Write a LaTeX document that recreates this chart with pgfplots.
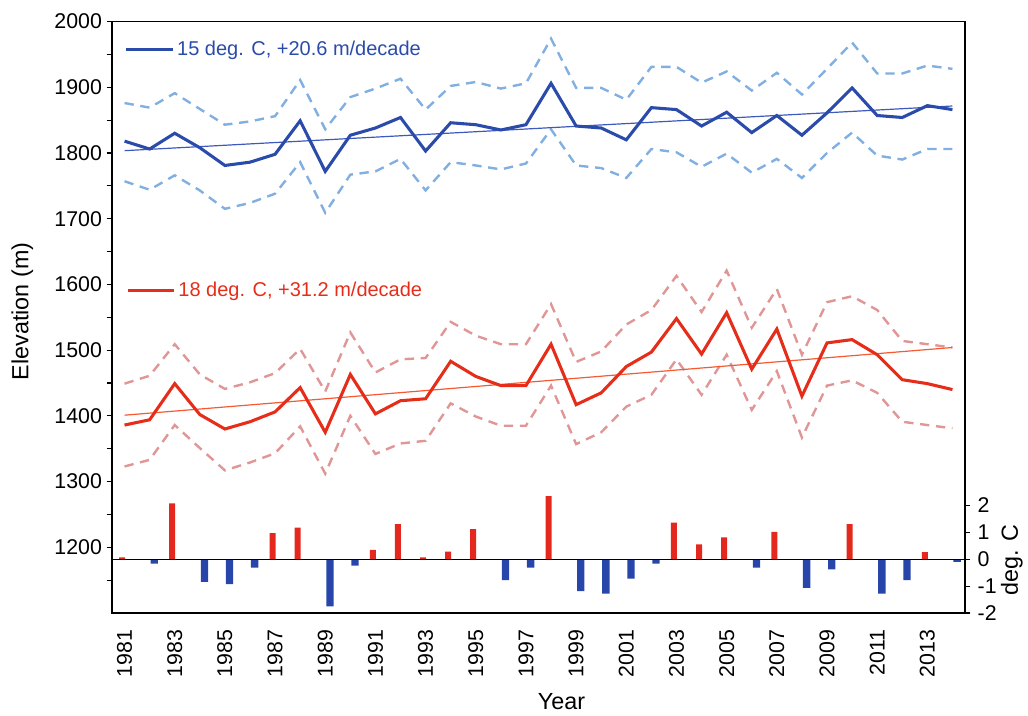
\documentclass[border=0pt]{standalone}
\usepackage{fontspec}
\setmainfont{Liberation Sans}
\usepackage{pgfplots}
\usepackage{pgfplotstable}
\pgfplotsset{compat=1.18}

\definecolor{blueMain}{RGB}{43,75,170}
\definecolor{blueLight}{RGB}{130,175,225}
\definecolor{blueTrend}{RGB}{60,90,190}
\definecolor{redMain}{RGB}{230,45,25}
\definecolor{redLight}{RGB}{225,150,150}
\definecolor{redTrend}{RGB}{245,90,50}
\definecolor{barRed}{RGB}{228,40,30}
\definecolor{barBlue}{RGB}{40,70,170}

\pgfplotstableread{
year mean upper lower
1981 1818 1876 1757
1982 1806 1869 1744
1983 1830 1891 1766
1984 1808 1867 1743
1985 1781 1843 1715
1986 1786 1848 1724
1987 1798 1856 1738
1988 1849 1911 1786
1989 1772 1836 1709
1990 1827 1885 1767
1991 1838 1898 1772
1992 1854 1913 1791
1993 1803 1866 1743
1994 1846 1902 1786
1995 1843 1908 1781
1996 1835 1898 1775
1997 1843 1906 1784
1998 1906 1974 1836
1999 1841 1899 1781
2000 1838 1899 1777
2001 1820 1881 1762
2002 1869 1931 1806
2003 1866 1931 1801
2004 1841 1907 1779
2005 1862 1924 1799
2006 1831 1895 1770
2007 1857 1922 1791
2008 1827 1889 1762
2009 1861 1928 1800
2010 1899 1968 1831
2011 1857 1921 1796
2012 1854 1921 1790
2013 1872 1933 1806
2014 1866 1928 1806
}\bluetab

\pgfplotstableread{
year mean upper lower
1981 1386 1449 1323
1982 1394 1461 1333
1983 1449 1509 1386
1984 1402 1463 1351
1985 1380 1441 1317
1986 1391 1451 1329
1987 1406 1465 1343
1988 1443 1502 1384
1989 1375 1437 1312
1990 1463 1527 1400
1991 1403 1466 1342
1992 1423 1486 1358
1993 1426 1488 1362
1994 1483 1543 1419
1995 1460 1522 1399
1996 1446 1509 1385
1997 1446 1509 1385
1998 1509 1570 1446
1999 1417 1482 1357
2000 1435 1498 1375
2001 1475 1539 1414
2002 1497 1561 1432
2003 1548 1613 1486
2004 1494 1558 1432
2005 1557 1621 1493
2006 1471 1534 1409
2007 1532 1593 1468
2008 1430 1493 1367
2009 1511 1573 1446
2010 1516 1582 1454
2011 1493 1561 1435
2012 1455 1514 1391
2013 1449 1509 1386
2014 1440 1504 1381
}\redtab

\pgfplotstableread{
year val
1981 0.07
1983 2.08
1987 0.97
1988 1.18
1991 0.35
1992 1.31
1993 0.07
1994 0.28
1995 1.12
1998 2.35
2003 1.36
2004 0.55
2005 0.81
2007 1.02
2010 1.31
2013 0.26
}\barredtab

\pgfplotstableread{
year val
1982 -0.16
1984 -0.84
1985 -0.93
1986 -0.31
1989 -1.75
1990 -0.24
1996 -0.78
1997 -0.31
1999 -1.19
2000 -1.28
2001 -0.72
2002 -0.16
2006 -0.31
2008 -1.07
2009 -0.38
2011 -1.28
2012 -0.78
2014 -0.10
}\barbluetab

\pgfplotsset{
  common/.style={
    scale only axis, width=639.75pt, height=443.6pt,
    at={(0,0)}, anchor=south west,
    xmin=1980.5, xmax=2014.5,
    tick align=outside,
    major tick length=4pt, minor tick length=4pt,
    every tick/.style={black, line width=0.8pt},
    axis line style={black, line width=1.1pt},
    tick label style={font=\fontsize{16}{19}\selectfont},
    /pgf/number format/assume math mode=true,
    /pgf/number format/1000 sep={},
    legend image code/.code={\draw[#1] (0pt,0pt) -- (35pt,0pt);},
  }
}

\begin{document}
\begin{tikzpicture}
\begin{axis}[common,
  ymin=1100, ymax=2000,
  xtick={1981,1983,...,2013},
  minor xtick={1980.5,1981.5,...,2014.5},
  xtick style={draw=none},
  xticklabel style={rotate=90, anchor=east},
  xticklabel shift=5pt,
  ytick={1200,1300,...,2000},
  minor ytick={1150,1250,...,1950},
  tick pos=left,
  xlabel={Year}, ylabel={Elevation (m)},
  every axis x label/.style={at={(axis description cs:0.527,-0.150)}, anchor=center, font=\fontsize{17.5}{21}\selectfont},
  every axis y label/.style={at={(axis description cs:-0.105,0.51)}, rotate=90, anchor=center, font=\fontsize{17.5}{21}\selectfont},
  legend style={at={(axis cs:1981.0,1958)}, anchor=west, draw=none, fill=none, inner sep=0pt,
    font=\fontsize{15}{18}\selectfont, text=blueMain},
]
\addlegendimage{blueMain, line width=2.3pt}
\addlegendentry{15 deg. C, +20.6 m/decade}
\addplot[blueLight, line width=1.8pt, dash pattern=on 7pt off 5pt, forget plot] table[x=year,y=upper]{\bluetab};
\addplot[blueLight, line width=1.8pt, dash pattern=on 7pt off 5pt, forget plot] table[x=year,y=lower]{\bluetab};
\addplot[redLight, line width=1.8pt, dash pattern=on 7pt off 5pt, forget plot] table[x=year,y=upper]{\redtab};
\addplot[redLight, line width=1.8pt, dash pattern=on 7pt off 5pt, forget plot] table[x=year,y=lower]{\redtab};
\addplot[blueTrend, line width=0.9pt, forget plot] coordinates {(1981,1803.5) (2014,1871.5)};
\addplot[redTrend, line width=0.9pt, forget plot] coordinates {(1981,1401) (2014,1504)};
\addplot[blueMain, line width=2.3pt, forget plot] table[x=year,y=mean]{\bluetab};
\addplot[redMain, line width=2.3pt, forget plot] table[x=year,y=mean]{\redtab};
\end{axis}
\begin{axis}[common,
  ymin=-2, ymax=20,
  axis x line=none,
  axis y line*=right,
  ytick={-2,-1,0,1,2},
  yticklabel style={xshift=2pt},
  ylabel={deg. C},
  every axis y label/.style={at={(axis description cs:1.055,0.09)}, rotate=90, anchor=center, font=\fontsize{17.5}{21}\selectfont},
  legend style={at={(axis cs:1981.05,10.0)}, anchor=west, draw=none, fill=none, inner sep=0pt,
    font=\fontsize{15}{18}\selectfont, text=redMain},
]
\addlegendimage{redMain, line width=2.3pt}
\addlegendentry{18 deg. C, +31.2 m/decade}
\addplot[ybar, bar width=4.5pt, bar shift=-1.9pt, fill=barRed, draw=none, forget plot] table[x=year,y=val]{\barredtab};
\addplot[ybar, bar width=5.5pt, bar shift=3.5pt, fill=barBlue, draw=none, forget plot] table[x=year,y=val]{\barbluetab};
\addplot[black, line width=0.9pt, forget plot] coordinates {(1980.5,0) (2014.5,0)};
\end{axis}
\pgfresetboundingbox
\path[use as bounding box] (-84pt,-77.25pt) rectangle (687pt,459.75pt);
\end{tikzpicture}
\end{document}
